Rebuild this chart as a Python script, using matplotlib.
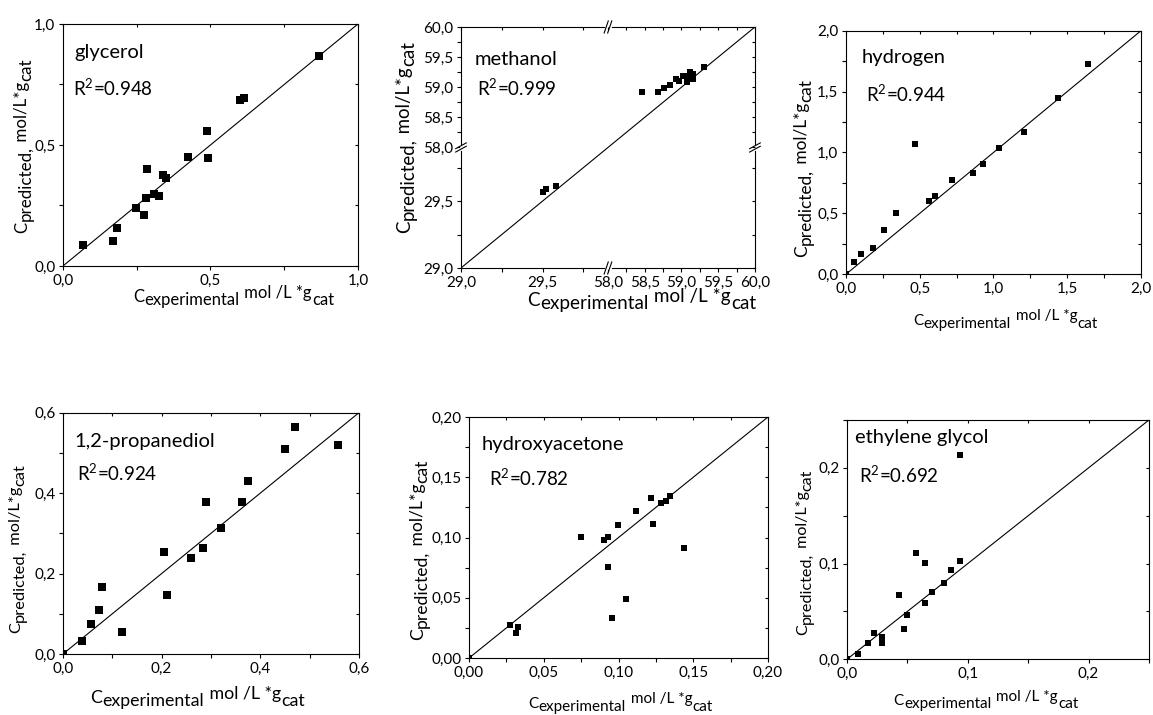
import numpy as np
import matplotlib

matplotlib.use("Agg")
import matplotlib.pyplot as plt
from matplotlib.ticker import FixedLocator, FuncFormatter, MultipleLocator

plt.rcParams["font.family"] = ["Lato", "DejaVu Sans"]
plt.rcParams["mathtext.fontset"] = "custom"
plt.rcParams["mathtext.rm"] = "Lato"
plt.rcParams["mathtext.it"] = "Lato:italic"
plt.rcParams["mathtext.bf"] = "Lato:bold"

# values: experimental (x) vs predicted (y)
glycerol_exp = [0.068, 0.171, 0.183, 0.247, 0.273, 0.282, 0.286, 0.307, 0.324, 0.338,
                0.349, 0.423, 0.487, 0.493, 0.600, 0.614, 0.868]
glycerol_pred = [0.086, 0.104, 0.155, 0.238, 0.211, 0.282, 0.401, 0.296, 0.289, 0.376,
                 0.363, 0.450, 0.558, 0.445, 0.687, 0.693, 0.869]

methanol_exp = [29.50, 29.52, 29.58, 58.46, 58.68, 58.76, 58.84, 58.93, 58.96, 59.02,
                59.06, 59.07, 59.12, 59.12, 59.15, 59.15, 59.31]
methanol_pred = [29.57, 29.59, 29.61, 58.92, 58.92, 58.98, 59.04, 59.14, 59.11, 59.18,
                 59.19, 59.08, 59.25, 59.19, 59.22, 59.14, 59.33]

hydrogen_exp = [0.0, 0.056, 0.102, 0.185, 0.26, 0.339, 0.466, 0.563, 0.606, 0.716,
                0.863, 0.926, 1.037, 1.209, 1.44, 1.643]
hydrogen_pred = [0.0, 0.104, 0.164, 0.219, 0.364, 0.501, 1.070, 0.605, 0.646, 0.774,
                 0.829, 0.906, 1.037, 1.171, 1.447, 1.726]

propanediol_exp = [0.0, 0.038, 0.057, 0.074, 0.080, 0.119, 0.204, 0.210, 0.260, 0.283,
                   0.289, 0.321, 0.362, 0.376, 0.450, 0.470, 0.557]
propanediol_pred = [0.0, 0.032, 0.075, 0.109, 0.167, 0.055, 0.254, 0.147, 0.238, 0.264,
                    0.379, 0.313, 0.377, 0.430, 0.510, 0.564, 0.520]

hydroxyacetone_exp = [0.0, 0.0272, 0.0312, 0.0328, 0.0749, 0.0901, 0.0930, 0.0930, 0.0957,
                      0.0999, 0.1048, 0.1117, 0.1215, 0.1231, 0.1287, 0.1316, 0.1342, 0.1438]
hydroxyacetone_pred = [0.0, 0.0271, 0.0205, 0.0260, 0.1006, 0.0983, 0.1003, 0.0753, 0.0335,
                       0.1100, 0.0493, 0.1224, 0.1324, 0.1108, 0.1283, 0.1302, 0.1341, 0.0917]

ethylene_glycol_exp = [0.0, 0.0091, 0.0171, 0.0220, 0.0289, 0.0289, 0.0433, 0.0469, 0.0499,
                       0.0573, 0.0642, 0.0645, 0.0700, 0.0799, 0.0860, 0.0932, 0.0932]
ethylene_glycol_pred = [0.0, 0.0056, 0.0174, 0.0279, 0.0230, 0.0167, 0.0675, 0.0320, 0.0467,
                        0.1107, 0.0592, 0.1006, 0.0703, 0.0794, 0.0933, 0.1031, 0.2138]

names = ["glycerol", "methanol", "hydrogen", "1,2-propanediol", "hydroxyacetone",
         "ethylene glycol"]
r2_values = ["0.948", "0.999", "0.944", "0.924", "0.782", "0.692"]
limits = [(0.0, 1.0), (29.0, 60.0), (0.0, 2.0), (0.0, 0.6), (0.0, 0.20), (0.0, 0.25)]
major_steps = [0.5, None, 0.5, 0.2, 0.05, 0.1]
minor_steps = [0.25, None, 0.25, 0.1, 0.025, 0.05]
decimals = [1, 1, 1, 1, 2, 1]

# methanol broken axis: 29.0-29.9 on the first half, 58.0-60.0 on the second half
methanol_major = [29.0, 29.5, 58.0, 58.5, 59.0, 59.5, 60.0]
methanol_minor = [29.25, 29.75, 58.25, 58.75, 59.25, 59.75]

# layout, in figure / axes fractions
axes_rects = [
    (0.0546, 0.628, 0.2559, 0.3385),
    (0.3998, 0.6252, 0.2550, 0.3371),
    (0.7337, 0.6164, 0.2559, 0.3407),
    (0.0546, 0.0853, 0.2567, 0.3375),
    (0.4068, 0.0797, 0.2593, 0.3371),
    (0.7346, 0.0779, 0.2619, 0.3347),
]
name_pos = [(0.04, 0.88), (0.047, 0.867), (0.054, 0.888), (0.04, 0.88), (0.042, 0.884),
            (0.027, 0.925)]
r2_pos = [(0.034, 0.735), (0.053, 0.747), (0.068, 0.74), (0.048, 0.75), (0.067, 0.747),
          (0.04, 0.77)]
xlabel_pos = [(0.237, -0.149), (0.224, -0.158), (0.227, -0.208), (0.092, -0.203),
              (0.197, -0.207), (0.153, -0.191)]
ylabel_pos = [(-0.122, 0.136), (-0.173, 0.145), (-0.132, 0.071), (-0.144, 0.087),
              (-0.154, 0.075), (-0.131, 0.10)]
xlabel_sizes = [12.0, 13.6, 11.0, 12.8, 11.0, 11.0]
ylabel_sizes = [12.2, 13.4, 12.4, 11.8, 12.6, 11.6]
marker_sizes = [5.2, 4.2, 4.2, 5.4, 4.2, 5.0]

XLABEL_PIECES = [("C", 0.0), ("experimental", -2.2), (" mol /L *g", 3.2), ("cat", -2.0)]
YLABEL_PIECES = [("C", 0.0), ("predicted,", -2.8), (" mol/L*g", 0.0), ("cat", -2.8)]


def _meth_fwd(v):
    v = np.asarray(v, dtype=float)
    return np.where(v < 44.0, (v - 29.0) / 0.9 * 0.5, 0.5 + (v - 58.0) / 2.0 * 0.5)


def _meth_inv(u):
    u = np.asarray(u, dtype=float)
    return np.where(u < 0.5, 29.0 + u / 0.5 * 0.9, 58.0 + (u - 0.5) / 0.5 * 2.0)


def _fmt(n):
    return FuncFormatter(lambda v, _pos: f"{v:.{n}f}".replace(".", ","))


def _label(ax, pieces, anchor, size, vertical):
    x0, y0 = anchor
    text0, prev_shift = pieces[0]
    if vertical:
        prev = ax.text(x0, y0, text0, transform=ax.transAxes, rotation=90,
                       rotation_mode="anchor", ha="left", va="baseline", fontsize=size)
    else:
        prev = ax.text(x0, y0, text0, transform=ax.transAxes, ha="left", va="baseline",
                       fontsize=size)
    for text, shift in pieces[1:]:
        step = shift - prev_shift
        if vertical:
            prev = ax.annotate(text, xy=(1, 1), xycoords=prev, xytext=(-step, 0.4),
                               textcoords="offset points", rotation=90, ha="right",
                               va="bottom", fontsize=size, annotation_clip=False)
        else:
            prev = ax.annotate(text, xy=(1, 0), xycoords=prev, xytext=(0.4, step),
                               textcoords="offset points", ha="left", va="bottom",
                               fontsize=size, annotation_clip=False)
        prev_shift = shift


def _break_marks(ax):
    kw = dict(transform=ax.transAxes, clip_on=False, color="black", lw=0.8, zorder=5)
    for y0 in (0.0, 1.0):
        ax.plot([0.494, 0.506], [y0, y0], transform=ax.transAxes, clip_on=False,
                color="white", lw=2.0, zorder=4)
        for d in (-0.006, 0.006):
            ax.plot([0.5 + d - 0.007, 0.5 + d + 0.007], [y0 - 0.025, y0 + 0.025], **kw)
    for x0 in (0.0, 1.0):
        ax.plot([x0, x0], [0.493, 0.507], transform=ax.transAxes, clip_on=False,
                color="white", lw=2.0, zorder=4)
        for d in (-0.007, 0.007):
            ax.plot([x0 - 0.018, x0 + 0.018], [0.5 + d - 0.012, 0.5 + d + 0.012], **kw)


def _draw_panel(fig, i, exp, pred):
    ax = fig.add_axes(axes_rects[i])
    lo, hi = limits[i]
    if i == 1:
        ax.set_xscale("function", functions=(_meth_fwd, _meth_inv))
        ax.set_yscale("function", functions=(_meth_fwd, _meth_inv))
        for axis in (ax.xaxis, ax.yaxis):
            axis.set_major_locator(FixedLocator(methanol_major))
            axis.set_minor_locator(FixedLocator(methanol_minor))
    else:
        for axis in (ax.xaxis, ax.yaxis):
            axis.set_major_locator(MultipleLocator(major_steps[i]))
            axis.set_minor_locator(MultipleLocator(minor_steps[i]))
    for axis in (ax.xaxis, ax.yaxis):
        axis.set_major_formatter(_fmt(decimals[i]))
    ax.set_xlim(lo, hi)
    ax.set_ylim(lo, hi)

    ax.plot([lo, hi], [lo, hi], color="black", lw=0.8)
    ax.plot(exp, pred, "s", color="black", ms=marker_sizes[i], mew=0)

    for spine in ax.spines.values():
        spine.set_linewidth(0.8)
    ax.tick_params(which="both", direction="out", width=0.8, labelsize=11, pad=2.5,
                   top=False, right=False, length=3.0)

    overlay = fig.add_axes(axes_rects[i], sharex=ax, sharey=ax, frameon=False)
    overlay.tick_params(which="both", direction="in", width=0.8, length=2.5, top=True,
                        right=True, bottom=False, left=False, labelbottom=False,
                        labelleft=False)

    ax.text(*name_pos[i], names[i], transform=ax.transAxes, fontsize=14.5, ha="left",
            va="center")
    ax.text(*r2_pos[i], r"$\mathregular{R^2}$=" + r2_values[i], transform=ax.transAxes,
            fontsize=13.5, ha="left", va="center")

    _label(ax, XLABEL_PIECES, xlabel_pos[i], xlabel_sizes[i], vertical=False)
    _label(ax, YLABEL_PIECES, ylabel_pos[i], ylabel_sizes[i], vertical=True)

    if i == 1:
        _break_marks(ax)
    return ax


fig = plt.figure(figsize=(11.53, 7.15), dpi=100)
series = [
    (glycerol_exp, glycerol_pred),
    (methanol_exp, methanol_pred),
    (hydrogen_exp, hydrogen_pred),
    (propanediol_exp, propanediol_pred),
    (hydroxyacetone_exp, hydroxyacetone_pred),
    (ethylene_glycol_exp, ethylene_glycol_pred),
]
for idx, (x_vals, y_vals) in enumerate(series):
    _draw_panel(fig, idx, x_vals, y_vals)

fig.savefig("out.png", dpi=100, facecolor="white")
